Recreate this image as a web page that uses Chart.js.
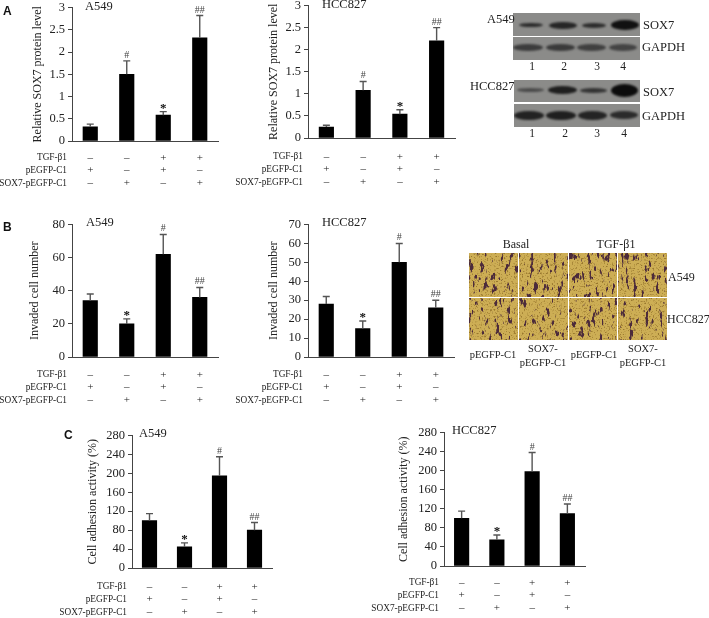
<!DOCTYPE html>
<html>
<head>
<meta charset="utf-8">
<title>SOX7 figure</title>
<script src="https://cdn.jsdelivr.net/npm/chart.js@4"></script>
<style>
  html, body { margin: 0; padding: 0; background: #fff; }
  #fig { position: relative; width: 709px; height: 618px; overflow: hidden; filter: blur(0.35px);
         font-family: "Liberation Serif", serif; color: #222; }
  #fig canvas { position: absolute; }
  .txt { position: absolute; white-space: nowrap; line-height: 1; transform: translateY(-50%); }
  .mid { transform: translate(-50%, -50%); }
  .letter { font-family: "Liberation Sans", sans-serif; font-weight: bold; font-size: 12px; color: #111; }
  .blot { position: absolute; background: #8b8b89; overflow: hidden; }
  .band { position: absolute; border-radius: 50%; filter: blur(1.1px); }
  .tile { position: absolute; background: #cdae55; overflow: hidden; }
  .tile svg { display: block; filter: blur(0.5px); }
</style>
</head>
<body>
<div id="fig"></div>
<script>
"use strict";

// Tratamientos (filas debajo de cada grafica)
const rowNames = ["TGF-β1", "pEGFP-C1", "SOX7-pEGFP-C1"];
const tgfRow = ["–", "–", "+", "+"];
const pegfpRow = ["+", "–", "+", "–"];
const soxRow = ["–", "+", "–", "+"];

const proteinMarks = ["", "#", "*", "##"];
const otherMarks = ["", "*", "#", "##"];

// Panel A
const proteinTicks = [0, 0.5, 1, 1.5, 2, 2.5, 3];
const a549Protein = [0.32, 1.5, 0.58, 2.32];
const a549ProteinErr = [0.38, 1.8, 0.66, 2.82];
const hccProtein = [0.25, 1.08, 0.54, 2.2];
const hccProteinErr = [0.29, 1.28, 0.64, 2.5];

// Panel B
const a549InvadedTicks = [0, 20, 40, 60, 80];
const a549Invaded = [34, 20, 62, 36];
const a549InvadedErr = [38, 23, 74, 42];
const hccInvadedTicks = [0, 10, 20, 30, 40, 50, 60, 70];
const hccInvaded = [28, 15, 50, 26];
const hccInvadedErr = [32, 19, 60, 30];

// Panel C
const adhesionTicks = [0, 40, 80, 120, 160, 200, 240, 280];
const a549Adhesion = [100, 45, 195, 80];
const a549AdhesionErr = [115, 53, 235, 96];
const hccAdhesion = [100, 55, 198, 110];
const hccAdhesionErr = [115, 65, 238, 130];

const fig = document.getElementById("fig");
const SERIF = "'Liberation Serif', serif";
const INK = "#222";

const panels = [
  { name: "A549", title: "Relative SOX7 protein level", ticks: proteinTicks, values: a549Protein, err: a549ProteinErr, marks: proteinMarks,
    left: 72, top: 6, right: 218, bottom: 141, canvasLeft: 0, titleX: 38, nameX: 85, nameY: 7, rowY: 17 },
  { name: "HCC827", title: "Relative SOX7 protein level", ticks: proteinTicks, values: hccProtein, err: hccProteinErr, marks: proteinMarks,
    left: 308, top: 4, right: 455, bottom: 138, canvasLeft: 236, titleX: 274, nameX: 322, nameY: 5, rowY: 19 },
  { name: "A549", title: "Invaded cell number", ticks: a549InvadedTicks, values: a549Invaded, err: a549InvadedErr, marks: otherMarks,
    left: 72, top: 223, right: 218, bottom: 357, canvasLeft: 0, titleX: 35, nameX: 86, nameY: 223, rowY: 18 },
  { name: "HCC827", title: "Invaded cell number", ticks: hccInvadedTicks, values: hccInvaded, err: hccInvadedErr, marks: otherMarks,
    left: 308, top: 223, right: 454, bottom: 357, canvasLeft: 236, titleX: 274, nameX: 322, nameY: 223, rowY: 18 },
  { name: "A549", title: "Cell adhesion activity (%)", ticks: adhesionTicks, values: a549Adhesion, err: a549AdhesionErr, marks: otherMarks,
    left: 132, top: 434, right: 272, bottom: 568, canvasLeft: 60, titleX: 93, nameX: 139, nameY: 434, rowY: 19 },
  { name: "HCC827", title: "Cell adhesion activity (%)", ticks: adhesionTicks, values: hccAdhesion, err: hccAdhesionErr, marks: otherMarks,
    left: 444, top: 431, right: 585, bottom: 566, canvasLeft: 368, titleX: 404, nameX: 452, nameY: 431, rowY: 17 },
];

const ROW_H = 12.6;

// Barras de error, marcas de significancia y nombres de filas
function panelPlugin(p) {
  return {
    id: "panelExtras",
    afterDatasetsDraw(chart) {
      const { ctx, scales: { x, y } } = chart;
      const bars = chart.getDatasetMeta(0).data;
      ctx.save();
      bars.forEach((bar, i) => {
        const topY = y.getPixelForValue(p.err[i]);
        ctx.strokeStyle = "#555";
        ctx.lineWidth = 1.4;
        ctx.beginPath();
        ctx.moveTo(bar.x, bar.y);
        ctx.lineTo(bar.x, topY);
        ctx.moveTo(bar.x - 3.5, topY);
        ctx.lineTo(bar.x + 3.5, topY);
        ctx.stroke();

        if (p.marks[i]) {
          const star = p.marks[i] === "*";
          ctx.fillStyle = star ? "#111" : "#444";
          ctx.font = star ? `bold 13px ${SERIF}` : `10px ${SERIF}`;
          ctx.textAlign = "center";
          ctx.textBaseline = "alphabetic";
          ctx.fillText(p.marks[i], bar.x, topY - (star ? 0 : 3));
        }
      });

      ctx.fillStyle = INK;
      ctx.font = `12.5px ${SERIF}`;
      ctx.textAlign = "left";
      ctx.textBaseline = "middle";
      ctx.fillText(p.name, p.nameX - p.canvasLeft, p.nameY - p.top + 9);

      ctx.font = `9.3px ${SERIF}`;
      ctx.textAlign = "right";
      rowNames.forEach((label, r) => {
        ctx.fillText(label, x.left - 5, y.bottom + p.rowY + r * ROW_H);
      });
      ctx.restore();
    },
  };
}

panels.forEach((p) => {
  const canvas = document.createElement("canvas");
  const canvasTop = p.top - 9;
  const canvasW = p.right + 5 - p.canvasLeft;
  const canvasH = p.bottom + 54 - canvasTop;
  canvas.width = canvasW;
  canvas.height = canvasH;
  canvas.style.left = p.canvasLeft + "px";
  canvas.style.top = canvasTop + "px";
  canvas.style.width = canvasW + "px";
  canvas.style.height = canvasH + "px";
  fig.appendChild(canvas);

  const titleFont = { family: SERIF, size: 12 };
  new Chart(canvas, {
    type: "bar",
    data: {
      labels: tgfRow.map((t, i) => [t, pegfpRow[i], soxRow[i]]),
      datasets: [{ data: p.values, backgroundColor: "#000", barThickness: 14.5 }],
    },
    plugins: [panelPlugin(p)],
    options: {
      responsive: false,
      animation: false,
      devicePixelRatio: 1,
      layout: { padding: { top: 9, right: 5, left: 0, bottom: 0 } },
      plugins: { legend: { display: false }, tooltip: { enabled: false } },
      scales: {
        x: {
          afterFit: (s) => { s.height = 54; },
          border: { color: "#444", width: 1 },
          grid: { drawOnChartArea: false, drawTicks: false },
          ticks: {
            autoSkip: false,
            maxRotation: 0,
            padding: p.rowY - ROW_H / 2,
            color: INK,
            font: { family: SERIF, size: 11, lineHeight: ROW_H + "px" },
          },
        },
        y: {
          min: p.ticks[0],
          max: p.ticks[p.ticks.length - 1],
          afterFit: (s) => { s.width = p.left - p.canvasLeft; },
          afterBuildTicks: (s) => { s.ticks = p.ticks.map((value) => ({ value })); },
          border: { color: "#444", width: 1 },
          grid: { drawOnChartArea: false, color: "#444", tickLength: 4 },
          ticks: { color: INK, padding: 3, font: { family: SERIF, size: 12.5 }, callback: (v) => String(v) },
          title: {
            display: true,
            text: p.title,
            color: INK,
            font: titleFont,
            padding: { top: p.titleX - p.canvasLeft - 7.2, bottom: 0 },
          },
        },
      },
    },
  });
});

// Texto suelto de la figura
function addText(text, x, y, size, mid, cls) {
  const d = document.createElement("div");
  d.className = "txt" + (mid ? " mid" : "") + (cls ? " " + cls : "");
  d.textContent = text;
  d.style.left = x + "px";
  d.style.top = y + "px";
  if (size) d.style.fontSize = size + "px";
  fig.appendChild(d);
}

addText("A", 3, 11, 0, false, "letter");
addText("B", 3, 227, 0, false, "letter");
addText("C", 64, 435, 0, false, "letter");

// Western blots: [izquierda, ancho, grosor, color]
function addBlot(left, top, width, height, centerY, bands) {
  const blot = document.createElement("div");
  blot.className = "blot";
  blot.style.cssText = `left:${left}px;top:${top}px;width:${width}px;height:${height}px`;
  bands.forEach(([x, w, h, color]) => {
    const b = document.createElement("div");
    b.className = "band";
    b.style.cssText = `left:${x - left}px;top:${centerY - top - h / 2}px;width:${w}px;height:${h}px;background:${color}`;
    blot.appendChild(b);
  });
  fig.appendChild(blot);
}

addBlot(513, 13, 127, 23, 25, [[519, 24, 4, "#2b2b2b"], [549, 28, 7, "#262626"], [582, 24, 5, "#2c2c2c"], [611, 28, 10, "#111"]]);
addBlot(513, 37, 127, 23, 47, [[513, 30, 7, "#3c3c3c"], [546, 29, 7, "#3a3a3a"], [577, 29, 7, "#3f3f3f"], [609, 28, 7, "#434343"]]);
addBlot(514, 80, 126, 22, 90, [[517, 27, 4, "#4a4a4a"], [548, 29, 8, "#1e1e1e"], [580, 27, 5, "#333"], [611, 27, 13, "#0c0c0c"]]);
addBlot(514, 104, 126, 23, 115, [[514, 30, 9, "#222"], [546, 30, 9, "#1f1f1f"], [578, 29, 9, "#242424"], [610, 28, 8, "#2b2b2b"]]);

addText("A549", 487, 19, 12.5);
addText("SOX7", 643, 25, 12.5);
addText("GAPDH", 642, 47, 12.5);
addText("HCC827", 470, 86, 12.5);
addText("SOX7", 643, 92, 12.5);
addText("GAPDH", 642, 116, 12.5);
["1", "2", "3", "4"].forEach((n, i) => {
  addText(n, [532, 564, 597, 623][i], 67, 11.5, true);
  addText(n, [532, 565, 597, 624][i], 134, 11.5, true);
});

// Micrografias: manchas con filtro de ruido SVG
const tileX = [469, 519, 569, 618];
const tileW = [49, 49, 48, 49];
const tileY = [253, 298];
const tileH = [44, 42];

function addTile(x, y, w, h, seed) {
  const t = document.createElement("div");
  t.className = "tile";
  t.style.cssText = `left:${x}px;top:${y}px;width:${w}px;height:${h}px`;
  t.innerHTML = `<svg width="${w}" height="${h}">
    <filter id="grain${seed}" x="0" y="0" width="100%" height="100%" color-interpolation-filters="sRGB">
      <feTurbulence type="fractalNoise" baseFrequency="0.6" numOctaves="2" seed="${seed + 40}"/>
      <feColorMatrix values="0 0 0 0 0.6  0 0 0 0 0.47  0 0 0 0 0.18  5 0 0 0 -2.8"/>
    </filter>
    <filter id="cells${seed}" x="0" y="0" width="100%" height="100%" color-interpolation-filters="sRGB">
      <feTurbulence type="fractalNoise" baseFrequency="0.26 0.1" numOctaves="3" seed="${seed}"/>
      <feColorMatrix values="0 0 0 0 0.3  0 0 0 0 0.17  0 0 0 0 0.23  12 0 0 0 -7.35"/>
    </filter>
    <rect width="${w}" height="${h}" filter="url(#grain${seed})"/>
    <rect width="${w}" height="${h}" filter="url(#cells${seed})"/>
  </svg>`;
  fig.appendChild(t);
}

tileY.forEach((y, r) => {
  tileX.forEach((x, c) => addTile(x, y, tileW[c], tileH[r], 3 + r * 4 + c));
});

addText("Basal", 516, 244, 12, true);
addText("TGF-β1", 616, 244, 12, true);
addText("A549", 668, 277, 12);
addText("HCC827", 667, 319, 12);
addText("pEGFP-C1", 493, 355, 10.5, true);
addText("SOX7-", 543, 349, 10.5, true);
addText("pEGFP-C1", 543, 363, 10.5, true);
addText("pEGFP-C1", 594, 355, 10.5, true);
addText("SOX7-", 643, 349, 10.5, true);
addText("pEGFP-C1", 643, 363, 10.5, true);
</script>
</body>
</html>
